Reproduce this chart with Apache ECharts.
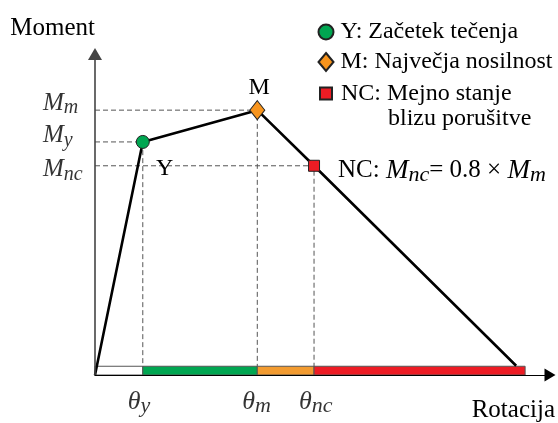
<!DOCTYPE html>
<html><head><meta charset="utf-8">
<script src="https://cdn.jsdelivr.net/npm/echarts@6/dist/echarts.min.js"></script>
<style>html,body{margin:0;padding:0;background:#fff}#c{width:558px;height:423px}</style>
</head><body><div id="c"></div>
<script>
// ---- data (arbitrary units) ----
const curveRotation = [0, 0.48, 1.63, 2.20, 4.23];
const curveMoment   = [0, 0.88, 1.00, 0.79, 0.035];
const pointTags     = ['Y', 'M', 'NC'];
const pointNames    = ['Y: Začetek tečenja', 'M: Največja nosilnost', 'NC: Mejno stanje\nblizu porušitve'];
const pointRotation = [0.48, 1.63, 2.20];
const pointMoment   = [0.88, 1.00, 0.79];
const momentTickLabels   = ['{i|M}{s|y}', '{i|M}{s|m}', '{i|M}{s|nc}'];
const rotationTickLabels = ['{i|θ}{s|y}', '{i|θ}{s|m}', '{i|θ}{s|nc}'];
const stageStart = [0, 0.48, 1.63, 2.20];
const stageEnd   = [0.48, 1.63, 2.20, 4.32];
const stageHeight = 0.033;
const xMax = 4.57, yMax = 1.212;
const ncNote = '{r|NC: }{i|M}{s|nc}{r|= 0.8 × }{i|M}{s|m}';

// ---- styles ----
const FONT = 'Liberation Serif, Times New Roman, serif';
const stageColors = ['#ffffff', '#00A651', '#F29B30', '#ED1C24'];
const markerColors = ['#00A651', '#F7941D', '#ED1C24'];
const markerSymbols = ['circle', 'diamond', 'rect'];
const markerSizes = [13, [15, 19], 11];
const markerLabelOffsets = [[22, 27], [2, -22], [24, 5]];
const momentLabelDy = [-6.5, -7, 4];

const mathRich = (mainSize, subSize, subLH, regSize) => ({
  i: {fontFamily: FONT, fontStyle: 'italic', fontSize: mainSize, lineHeight: 30, color: '#000'},
  s: {fontFamily: FONT, fontStyle: 'italic', fontSize: subSize, lineHeight: subLH, verticalAlign: 'bottom', color: '#000'},
  r: {fontFamily: FONT, fontSize: regSize || 24, lineHeight: 30, color: '#000'}
});

const series = [];
// dashed guide lines
pointRotation.forEach((r, i) => {
  series.push({
    type: 'line', silent: true, symbol: 'none', z: 1,
    data: [[0, pointMoment[i]], [r, pointMoment[i]], [r, 0]],
    lineStyle: {color: '#555', width: 1, type: [5, 3]}
  });
});
// stage bar along rotation axis
series.push({
  type: 'custom', silent: true, z: 3,
  data: stageStart.map((s, i) => [s, stageEnd[i], stageHeight]),
  renderItem: (params, api) => {
    const p0 = api.coord([api.value(0), 0]);
    const p1 = api.coord([api.value(1), api.value(2)]);
    return {type: 'rect',
      shape: {x: p0[0], y: p1[1], width: p1[0] - p0[0], height: p0[1] - p1[1]},
      style: {fill: stageColors[params.dataIndex], stroke: '#555', lineWidth: 1}};
  }
});
// moment-rotation curve
series.push({
  type: 'line', silent: true, symbol: 'none', z: 4,
  data: curveRotation.map((x, i) => [x, curveMoment[i]]),
  lineStyle: {color: '#000', width: 2.6}
});
// markers
pointRotation.forEach((r, i) => {
  const isNC = i === 2;
  series.push({
    type: 'scatter', name: pointNames[i], z: 5, silent: true,
    symbol: markerSymbols[i], symbolSize: markerSizes[i],
    itemStyle: {color: markerColors[i], borderColor: '#222', borderWidth: 1, opacity: 1},
    data: [[r, pointMoment[i]]],
    label: {show: true, position: 'inside', offset: markerLabelOffsets[i],
      align: isNC ? 'left' : 'center',
      formatter: isNC ? ncNote : pointTags[i],
      fontFamily: FONT, fontSize: 24, color: '#000',
      rich: mathRich(27, 22, 21.4, 25)}
  });
});
// moment tick labels
series.push({
  type: 'scatter', silent: true, z: 6, symbolSize: 1, itemStyle: {color: 'transparent'},
  data: pointMoment.map((m, i) => ({value: [0, m],
    label: {show: true, position: 'inside', align: 'left', offset: [-52, momentLabelDy[i]],
      formatter: momentTickLabels[i], rich: mathRich(25, 20, 18.6)}}))
});
// rotation tick labels
series.push({
  type: 'scatter', silent: true, z: 6, symbolSize: 1, itemStyle: {color: 'transparent'},
  data: pointRotation.map((r, i) => ({value: [r, 0],
    label: {show: true, position: 'inside', align: 'left', offset: [-15, 27],
      formatter: rotationTickLabels[i], rich: mathRich(26, 22, 27.4)}}))
});

const chart = echarts.init(document.getElementById('c'), null, {renderer: 'canvas'});
chart.setOption({
  animation: false,
  backgroundColor: '#fff',
  grid: {left: 95, right: 6, top: 54, bottom: 37},
  xAxis: {
    type: 'value', min: 0, max: xMax, z: 10,
    name: 'Rotacija', nameLocation: 'end', nameGap: 5,
    nameTextStyle: {fontFamily: FONT, fontSize: 25, color: '#000', align: 'right', verticalAlign: 'top', padding: [23, 0, 0, 0]},
    axisLine: {show: true, symbol: ['none', 'triangle'], symbolSize: [13, 11], lineStyle: {color: '#000', width: 1.2}},
    axisTick: {show: false}, axisLabel: {show: false}, splitLine: {show: false}
  },
  yAxis: {
    type: 'value', min: 0, max: yMax, z: 10,
    name: 'Moment', nameLocation: 'end', nameGap: 13,
    nameTextStyle: {fontFamily: FONT, fontSize: 25, color: '#000', align: 'right', verticalAlign: 'bottom'},
    axisLine: {show: true, symbol: ['none', 'triangle'], symbolSize: [14, 12], lineStyle: {color: '#444', width: 1.6}},
    axisTick: {show: false}, axisLabel: {show: false}, splitLine: {show: false}
  },
  legend: [{
    data: pointNames.slice(0, 2), orient: 'vertical', left: 317.5, top: 19.5, padding: 0,
    itemGap: 5, itemWidth: 15, itemHeight: 18, selectedMode: false,
    textStyle: {fontFamily: FONT, fontSize: 24, lineHeight: 25, color: '#000', padding: [0, 0, 0, 2]}
  }, {
    data: [pointNames[2]], orient: 'vertical', left: 319, top: 56, padding: 0,
    itemWidth: 12, itemHeight: 12, selectedMode: false,
    formatter: (name) => { const p = name.split('\n'); return '{s| }\n{a|' + p[0] + '}\n{b|' + p[1] + '}'; },
    textStyle: {fontFamily: FONT, fontSize: 24, lineHeight: 25, color: '#000',
      rich: {
        s: {fontFamily: FONT, fontSize: 24, lineHeight: 25},
        a: {fontFamily: FONT, fontSize: 24, lineHeight: 25, color: '#000', padding: [0, 0, 0, 4]},
        b: {fontFamily: FONT, fontSize: 24, lineHeight: 25, color: '#000', padding: [0, 0, 0, 51]}
      }}
  }],
  series: series
});
</script>
</body></html>
